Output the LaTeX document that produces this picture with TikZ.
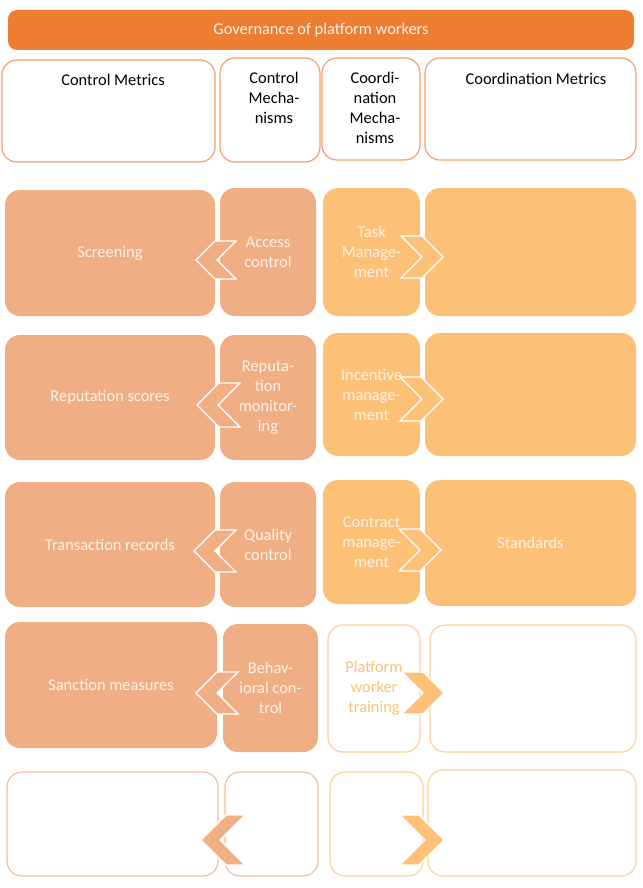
\documentclass[tikz,border=0pt]{standalone}
\usepackage{fontspec}
\setmainfont{Carlito}
\begin{document}
\definecolor{barorange}{HTML}{ED7D31}
\definecolor{frameorange}{HTML}{F2A06E}
\definecolor{salmon}{HTML}{EFAE84}
\definecolor{apricot}{HTML}{FCC177}
\definecolor{salmonline}{HTML}{F5BE9C}
\definecolor{apricotline}{HTML}{FDD094}
\definecolor{paletext}{HTML}{FDF1E8}
\begin{tikzpicture}[x=1pt,y=-1pt,
  font=\fontsize{16.4}{20}\selectfont,
  card/.style={rounded corners=15pt,line width=1.2pt,inner sep=0pt,align=center},
  headcard/.style={card,draw=frameorange,fill=white},
  ctrlcard/.style={card,fill=salmon,text=paletext},
  coorcard/.style={card,fill=apricot,text=paletext},
  ctrlempty/.style={card,draw=salmonline,fill=white},
  cooremptyy/.style={card,draw=apricotline,fill=white},
  headtext/.style={anchor=north,align=center,inner sep=0pt},
  chevctrl/.style={fill=salmon,draw=white,line width=1.3pt,line join=miter},
  chevcoor/.style={fill=apricot,draw=white,line width=1.3pt,line join=miter}]
\useasboundingbox (0,0) rectangle (642,888);

% chevron pointing left: tip x, mid y, half height, body width
\newcommand\chevleft[5]{%
  \draw[#1] (#2,#3) -- ++(#4,-#4) -- ++(#5,0) -- ++(-#4,#4) -- ++(#4,#4) -- ++(-#5,0) -- cycle;}
% chevron pointing right
\newcommand\chevright[5]{%
  \draw[#1] (#2,#3) -- ++(-#4,-#4) -- ++(-#5,0) -- ++(#4,#4) -- ++(-#4,#4) -- ++(#5,0) -- cycle;}

% title bar
\node[rounded corners=9pt,fill=barorange,text=paletext,minimum width=626pt,minimum height=40pt,inner sep=0pt]
  (title) at (321,30) {Governance of platform workers};

% column headers
\node[headcard,minimum width=213pt,minimum height=102pt] (h1) at (108.5,111) {};
\node[headcard,minimum width=100pt,minimum height=104pt] (h2) at (270,110) {};
\node[headcard,minimum width=98pt,minimum height=102pt] (h3) at (371,109) {};
\node[headcard,minimum width=211pt,minimum height=102pt] (h4) at (530.5,109) {};
\node[headtext] (t1) at (113,74) {Control Metrics};
\node[headtext] (t2) at (274,72) {Control\\Mecha-\\nisms};
\node[headtext] (t3) at (375,72) {Coordi-\\nation\\Mecha-\\nisms};
\node[headtext] (t4) at (536,73) {Coordination Metrics};

% row 1
\node[ctrlcard,minimum width=210pt,minimum height=126pt] (m1) at (110,253) {Screening};
\node[ctrlcard,minimum width=96pt,minimum height=128pt] (c1) at (268,252) {Access\\control};
\node[coorcard,minimum width=97pt,minimum height=128pt] (k1) at (371.5,252) {Task\\Manage-\\ment};
\node[coorcard,minimum width=211pt,minimum height=128pt] (n1) at (530.5,252) {};
\chevleft{chevctrl}{196}{260}{19}{21}
\chevright{chevcoor}{443}{257}{21}{21}

% row 2
\node[ctrlcard,minimum width=210pt,minimum height=125pt] (m2) at (110,397.5) {Reputation scores};
\node[ctrlcard,minimum width=96pt,minimum height=125pt] (c2) at (268,397.5) {Reputa-\\tion\\monitor-\\ing};
\node[coorcard,minimum width=97pt,minimum height=123pt] (k2) at (371.5,394.5) {Incentive\\manage-\\ment};
\node[coorcard,minimum width=211pt,minimum height=123pt] (n2) at (530.5,394.5) {};
\chevleft{chevctrl}{197}{405}{22}{21}
\chevright{chevcoor}{443}{399}{22}{21}

% row 3
\node[ctrlcard,minimum width=210pt,minimum height=125pt] (m3) at (110,544.5) {Transaction records};
\node[ctrlcard,minimum width=96pt,minimum height=125pt] (c3) at (268,544.5) {Quality\\control};
\node[coorcard,minimum width=97pt,minimum height=124pt] (k3) at (371.5,542) {Contract\\manage-\\ment};
\node[coorcard,minimum width=211pt,minimum height=126pt] (n3) at (530.5,543) {Standards};
\chevleft{chevctrl}{194}{551}{21}{21}
\chevright{chevcoor}{441}{550}{21}{21}

% row 4
\node[ctrlcard,minimum width=212pt,minimum height=126pt] (m4) at (111,685) {Sanction measures};
\node[ctrlcard,minimum width=95pt,minimum height=128pt] (c4) at (270.5,688) {Behav-\\ioral con-\\trol};
\node[cooremptyy,minimum width=92pt,minimum height=127pt,text=apricot] (k4) at (374,688.5) {Platform\\worker\\training};
\node[cooremptyy,minimum width=206pt,minimum height=127pt] (n4) at (533,688.5) {};
\chevleft{chevctrl}{196}{693}{21}{21}
\chevright{chevcoor}{444}{693}{21}{21}

% row 5
\node[ctrlempty,minimum width=211pt,minimum height=104pt] (m5) at (112.5,824) {};
\node[ctrlempty,minimum width=93pt,minimum height=104pt] (c5) at (271.5,824) {};
\node[cooremptyy,minimum width=93pt,minimum height=104pt] (k5) at (376.5,824) {};
\node[cooremptyy,minimum width=208pt,minimum height=106pt] (n5) at (532,823) {};
\chevleft{chevctrl}{201}{840}{25}{19}
\chevright{chevcoor}{444}{840}{25}{19}
\end{tikzpicture}
\end{document}
